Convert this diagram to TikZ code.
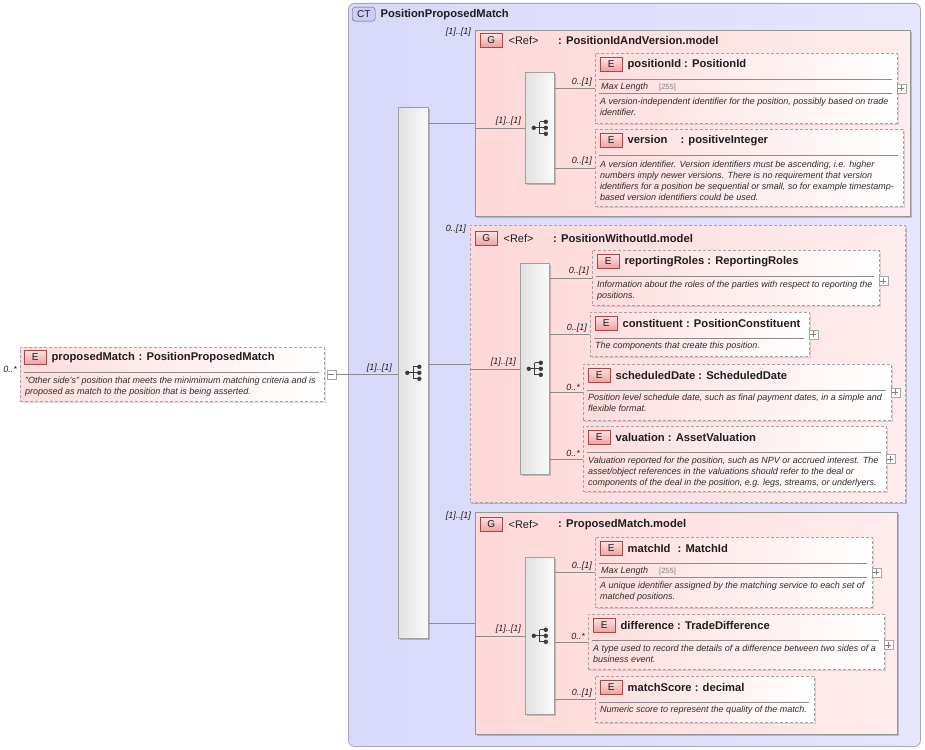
\documentclass[tikz,border=0pt]{standalone}
\usepackage{fontspec}
\setmainfont{Liberation Sans}
\usetikzlibrary{shadows}
\definecolor{ctL}{RGB}{216,216,250}
\definecolor{ctR}{RGB}{230,230,255}
\definecolor{ctborder}{RGB}{165,165,190}
\definecolor{grpL}{RGB}{255,216,216}
\definecolor{grpR}{RGB}{255,236,236}
\definecolor{grpborder}{RGB}{150,150,150}
\definecolor{elL}{RGB}{255,220,220}
\definecolor{dashgray}{RGB}{165,165,165}
\definecolor{barL}{RGB}{226,226,226}
\definecolor{barR}{RGB}{250,250,250}
\definecolor{bargray}{RGB}{160,160,160}
\definecolor{badgeT}{RGB}{252,228,228}
\definecolor{badgeB}{RGB}{240,160,160}
\definecolor{badgeborder}{RGB}{170,70,70}
\definecolor{ctbadgefill}{RGB}{205,205,245}
\definecolor{ctbadgeborder}{RGB}{90,90,150}
\definecolor{conn}{RGB}{140,140,140}
\definecolor{icon}{RGB}{60,60,60}
\definecolor{txt}{RGB}{30,30,30}
\definecolor{desctxt}{RGB}{45,45,45}

\newcommand\elemhead[2]{%
  \node[badge, anchor=north west] (#1b) at ([xshift=5pt,yshift=-4pt]#1.north west) {E};
  \node[ttl, anchor=west] (#1t) at ([xshift=5pt]#1b.east) {#2};
  \draw[sepline] ([xshift=4pt,yshift=-26pt]#1.north west) -- ([xshift=-6pt,yshift=-26pt]#1.north east);}
\newcommand\maxlen[1]{%
  \node[desc, anchor=west] (#1ml) at ([xshift=5pt,yshift=-34.5pt]#1.north west) {Max Length};
  \node[lim, anchor=west] (#1lv) at ([xshift=64pt,yshift=-34.5pt]#1.north west) {[255]};
  \draw[sepline] ([xshift=4pt,yshift=-40pt]#1.north west) -- ([xshift=-6pt,yshift=-40pt]#1.north east);}
\newcommand\grouphead[3]{%
  \node[badge, anchor=north west] (#1b) at ([xshift=5pt,yshift=-#3]#1.north west) {G};
  \node[reftxt, anchor=west] (#1r) at ([xshift=6pt]#1b.east) {<Ref>};
  \coordinate (#1x) at ([xshift=83pt]#1.north west);
  \node[ttl, anchor=west] (#1t) at (#1b.east -| #1x) {#2};}

\begin{document}
\begin{tikzpicture}[x=1pt,y=-1pt,
  myshadow/.style={drop shadow={shadow xshift=2pt,shadow yshift=-2pt,fill=black,opacity=0.2}},
  ctbox/.style={draw=ctborder, rounded corners=6pt, left color=ctL, right color=ctR, inner sep=0pt, line width=0.8pt},
  groupsolid/.style={draw=grpborder, left color=grpL, right color=grpR, inner sep=0pt, line width=0.7pt, myshadow},
  groupdashed/.style={draw=dashgray, dash pattern=on 3pt off 2pt, left color=grpL, right color=grpR, inner sep=0pt, line width=0.8pt, myshadow},
  elembox/.style={draw=dashgray, dash pattern=on 3pt off 2pt, left color=elL, right color=white, inner sep=0pt, line width=0.7pt, drop shadow={shadow xshift=1.5pt,shadow yshift=-1.5pt,fill=black,opacity=0.12}},
  seqbar/.style={draw=bargray, left color=barL, right color=barR, inner sep=0pt, line width=0.6pt, myshadow},
  badge/.style={draw=badgeborder, top color=badgeT, bottom color=badgeB, minimum width=22pt, minimum height=14pt, inner sep=0pt, font=\fontsize{10}{10}\selectfont, text=txt},
  ctbadge/.style={draw=ctbadgeborder, fill=ctbadgefill, rounded corners=3pt, minimum width=23pt, minimum height=14pt, inner sep=0pt, font=\fontsize{10}{10}\selectfont, text=txt},
  ttl/.style={font=\fontsize{11.2}{12}\selectfont\bfseries, inner sep=0pt, text=txt},
  reftxt/.style={font=\fontsize{11}{12}\selectfont, inner sep=0pt, text=txt},
  desc/.style={font=\fontsize{9}{11}\selectfont\itshape, inner sep=1pt, align=left, text=desctxt},
  lim/.style={font=\fontsize{7.5}{8}\selectfont, inner sep=0pt, text=gray},
  mult/.style={font=\fontsize{9}{10}\selectfont\itshape, inner sep=1pt, text=txt},
  sepline/.style={draw=conn, line width=0.5pt},
  conn/.style={draw=conn, line width=0.6pt},
  plusbox/.style={draw=gray!70, fill=white, minimum size=9pt, inner sep=0pt,
    path picture={\draw[gray, line width=0.5pt] ([xshift=-3pt]path picture bounding box.center) -- ([xshift=3pt]path picture bounding box.center) ([yshift=-3pt]path picture bounding box.center) -- ([yshift=3pt]path picture bounding box.center);}},
  minusbox/.style={draw=gray!70, fill=white, minimum size=9pt, inner sep=0pt,
    path picture={\draw[gray, line width=0.5pt] ([xshift=-3pt]path picture bounding box.center) -- ([xshift=3pt]path picture bounding box.center);}},
  seqicon/.pic={
    \draw[icon, line width=0.9pt] (-6,0) -- (0,0) (0,-6) -- (0,6) (0,-6) -- (6,-6) (0,0) -- (6,0) (0,6) -- (6,6);
    \fill[icon] (-6,0) circle (2.2pt) (6,-6) circle (2.2pt) (6,0) circle (2.2pt) (6,6) circle (2.2pt);
  }
]
\useasboundingbox (0,0) rectangle (925,749);

% complex type box
\node[ctbox, minimum width=572pt, minimum height=743pt, anchor=north west] (ct) at (348,3) {};
\node[ctbadge, anchor=north west] (ctb) at (352,7) {CT};
\node[ttl, anchor=west] (ctt) at ([xshift=5pt]ctb.east) {PositionProposedMatch};

% left element
\node[elembox, minimum width=304pt, minimum height=54pt, anchor=north west] (pm) at (20,347) {};
\node[badge, anchor=north west] (pmb) at ([xshift=4pt,yshift=-3pt]pm.north west) {E};
\node[ttl, anchor=west] (pmt) at ([xshift=5pt]pmb.east) {proposedMatch\,\,: PositionProposedMatch};
\draw[sepline] ([xshift=4pt,yshift=-25pt]pm.north west) -- ([xshift=-6pt,yshift=-25pt]pm.north east);
\node[desc, anchor=north west] (pmd) at ([xshift=4pt,yshift=-29pt]pm.north west) {"Other side's" position that meets the minimimum matching criteria and is\\proposed as match to the position that is being asserted.};
\node[minusbox, anchor=west] (pmm) at ([xshift=2pt]pm.east) {};
\node[mult, anchor=south east] (pmmult) at ([xshift=-2pt,yshift=1pt]pm.west) {0..*};

% main sequence bar
\node[seqbar, minimum width=30pt, minimum height=531pt, anchor=north west] (mb) at (398,107) {};
\pic at (mb.center) {seqicon};
\coordinate (mbin) at (mb.west |- pmm.east);
\draw[conn] (pmm.east) -- (mbin);
\node[mult, anchor=south east] at ([xshift=-5pt,yshift=1pt]mbin) {[1]..[1]};

% group 1
\node[groupsolid, minimum width=435pt, minimum height=186pt, anchor=north west] (ga) at (475,30) {};
\grouphead{ga}{: PositionIdAndVersion.model}{3pt}
\node[mult, anchor=east] at ([xshift=-3pt,yshift=-2pt]ga.north west) {[1]..[1]};
\node[seqbar, minimum width=29pt, minimum height=111pt, anchor=north west] (gab) at (525,72) {};
\pic at (gab.center) {seqicon};

% group 2
\node[groupdashed, minimum width=435pt, minimum height=277pt, anchor=north west] (gb) at (470,225) {};
\grouphead{gb}{: PositionWithoutId.model}{6pt}
\node[mult, anchor=east] at ([xshift=-3pt,yshift=-4pt]gb.north west) {0..[1]};
\node[seqbar, minimum width=29pt, minimum height=211pt, anchor=north west] (gbb) at (520,263) {};
\pic at (gbb.center) {seqicon};

% group 3
\node[groupsolid, minimum width=422pt, minimum height=222pt, anchor=north west] (gc) at (475,512) {};
\grouphead{gc}{: ProposedMatch.model}{5pt}
\node[mult, anchor=east] at ([xshift=-3pt,yshift=-4pt]gc.north west) {[1]..[1]};
\node[seqbar, minimum width=29pt, minimum height=157pt, anchor=north west] (gcb) at (525,557) {};
\pic at (gcb.center) {seqicon};

% connectors main bar -> groups
\foreach \g in {ga,gb,gc}{
  \draw[conn] (mb.east |- \g.west) -- (\g.west);
  \draw[conn] (\g.west |- \g b.west) -- (\g b.west);
  \node[mult, anchor=south east] at ([xshift=-3pt,yshift=1pt]\g b.west) {[1]..[1]};
}

% ---- group 1 elements
\node[elembox, minimum width=302pt, minimum height=70pt, anchor=north west] (pid) at (595,53) {};
\elemhead{pid}{positionId : PositionId}
\maxlen{pid}
\node[desc, anchor=north west] (pidd) at ([xshift=4pt,yshift=-44pt]pid.north west) {A version-independent identifier for the position, possibly based on trade\\identifier.};
\node[plusbox, anchor=west] at ([xshift=-1pt]pid.east) {};

\node[elembox, minimum width=308pt, minimum height=77pt, anchor=north west] (ver) at (595,129) {};
\elemhead{ver}{version\hspace{10pt} : positiveInteger}
\node[desc, anchor=north west] (verd) at ([xshift=4pt,yshift=-31pt]ver.north west) {A version identifier. Version identifiers must be ascending, i.e. higher\\numbers imply newer versions. There is no requirement that version\\identifiers for a position be sequential or small, so for example timestamp-\\based version identifiers could be used.};

% ---- group 2 elements
\node[elembox, minimum width=287pt, minimum height=55pt, anchor=north west] (rr) at (592,250) {};
\elemhead{rr}{reportingRoles : ReportingRoles}
\node[desc, anchor=north west] (rrd) at ([xshift=4pt,yshift=-30pt]rr.north west) {Information about the roles of the parties with respect to reporting the\\positions.};
\node[plusbox, anchor=west] at ([xshift=-1pt,yshift=-3pt]rr.east) {};

\node[elembox, minimum width=219pt, minimum height=44pt, anchor=north west] (con) at (590,312) {};
\elemhead{con}{constituent : PositionConstituent}
\node[desc, anchor=north west] (cond) at ([xshift=4pt,yshift=-29pt]con.north west) {The components that create this position.};
\node[plusbox, anchor=west] at ([xshift=-1pt]con.east) {};

\node[elembox, minimum width=308pt, minimum height=56pt, anchor=north west] (sd) at (583,364) {};
\elemhead{sd}{scheduledDate : ScheduledDate}
\node[desc, anchor=north west] (sdd) at ([xshift=4pt,yshift=-29pt]sd.north west) {Position level schedule date, such as final payment dates, in a simple and\\flexible format.};
\node[plusbox, anchor=west] at ([xshift=-1pt]sd.east) {};

\node[elembox, minimum width=303pt, minimum height=65pt, anchor=north west] (val) at (583,426) {};
\elemhead{val}{valuation : AssetValuation}
\node[desc, anchor=north west] (vald) at ([xshift=4pt,yshift=-30pt]val.north west) {Valuation reported for the position, such as NPV or accrued interest. The\\asset/object references in the valuations should refer to the deal or\\components of the deal in the position, e.g. legs, streams, or underlyers.};
\node[plusbox, anchor=west] at ([xshift=-1pt]val.east) {};

% ---- group 3 elements
\node[elembox, minimum width=277pt, minimum height=70pt, anchor=north west] (mid) at (595,537) {};
\elemhead{mid}{matchId\hspace{4pt} : MatchId}
\maxlen{mid}
\node[desc, anchor=north west] (midd) at ([xshift=4pt,yshift=-44pt]mid.north west) {A unique identifier assigned by the matching service to each set of\\matched positions.};
\node[plusbox, anchor=west] at ([xshift=-1pt]mid.east) {};

\node[elembox, minimum width=296pt, minimum height=55pt, anchor=north west] (dif) at (588,614) {};
\elemhead{dif}{difference : TradeDifference}
\node[desc, anchor=north west] (difd) at ([xshift=4pt,yshift=-30pt]dif.north west) {A type used to record the details of a difference between two sides of a\\business event.};
\node[plusbox, anchor=west] at ([xshift=-1pt,yshift=-3pt]dif.east) {};

\node[elembox, minimum width=219pt, minimum height=46pt, anchor=north west] (ms) at (595,676) {};
\elemhead{ms}{matchScore : decimal}
\node[desc, anchor=north west] (msd) at ([xshift=4pt,yshift=-29pt]ms.north west) {Numeric score to represent the quality of the match.};

% ---- element connectors
\foreach \b/\e/\m in {gab/pid/{0..[1]}, gab/ver/{0..[1]}, gbb/rr/{0..[1]}, gbb/con/{0..[1]}, gbb/sd/{0..*}, gbb/val/{0..*}, gcb/mid/{0..[1]}, gcb/dif/{0..*}, gcb/ms/{0..[1]}}{
  \draw[conn] (\b.east |- \e.west) -- (\e.west);
  \node[mult, anchor=south east] at ([xshift=-2pt,yshift=1pt]\e.west) {\m};
}
\end{tikzpicture}
\end{document}
